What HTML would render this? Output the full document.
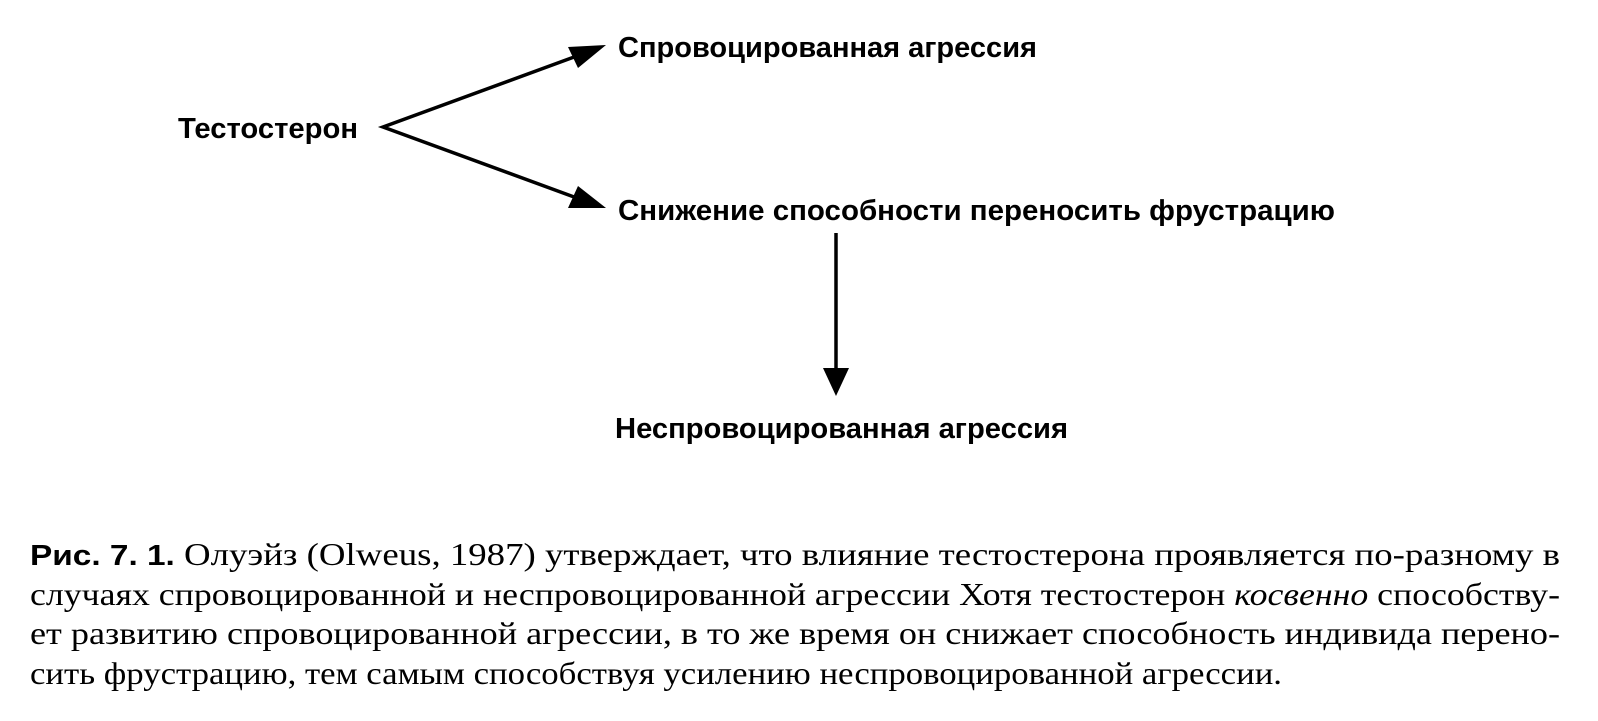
<!DOCTYPE html>
<html><head><meta charset="utf-8"><style>
html,body{margin:0;padding:0;background:#fff;}
svg{display:block}
</style></head><body>
<svg width="1598" height="721" viewBox="0 0 1598 721" xmlns="http://www.w3.org/2000/svg">
<g font-family="'Liberation Sans','DejaVu Sans',sans-serif" font-weight="bold" font-size="29" fill="#000">
<text x="178" y="138" textLength="180" lengthAdjust="spacingAndGlyphs">Тестостерон</text>
<text x="618" y="57" textLength="419" lengthAdjust="spacingAndGlyphs">Спровоцированная агрессия</text>
<text x="618" y="220" textLength="717" lengthAdjust="spacingAndGlyphs">Снижение способности переносить фрустрацию</text>
<text x="615" y="438" textLength="453" lengthAdjust="spacingAndGlyphs">Неспровоцированная агрессия</text>
</g>
<g stroke="#000" stroke-width="3.5" fill="none">
<polyline points="585,53 383,127 585,201"/>
<line x1="836" y1="233" x2="836" y2="375"/>
</g>
<g fill="#000">
<polygon points="606,45 568,47 578,68"/>
<polygon points="606,208 578,186 568,208"/>
<polygon points="836,396 823,368 849,368"/>
</g>
<g font-family="'Liberation Serif','DejaVu Serif',serif" font-size="32" fill="#000">
<text x="30" y="565" textLength="1530" lengthAdjust="spacingAndGlyphs"><tspan font-family="'Liberation Sans',sans-serif" font-weight="bold" font-size="29">Рис. 7. 1.</tspan> Олуэйз (Olweus, 1987) утверждает, что влияние тестостерона проявляется по-разному в</text>
<text x="30" y="605" textLength="1530" lengthAdjust="spacingAndGlyphs">случаях спровоцированной и неспровоцированной агрессии  Хотя тестостерон <tspan font-style="italic">косвенно</tspan> способству-</text>
<text x="30" y="644" textLength="1530" lengthAdjust="spacingAndGlyphs">ет развитию спровоцированной агрессии, в то же время он снижает способность индивида перено-</text>
<text x="30" y="684" textLength="1252" lengthAdjust="spacingAndGlyphs">сить фрустрацию, тем самым способствуя усилению неспровоцированной агрессии.</text>
</g>
</svg>
</body></html>
